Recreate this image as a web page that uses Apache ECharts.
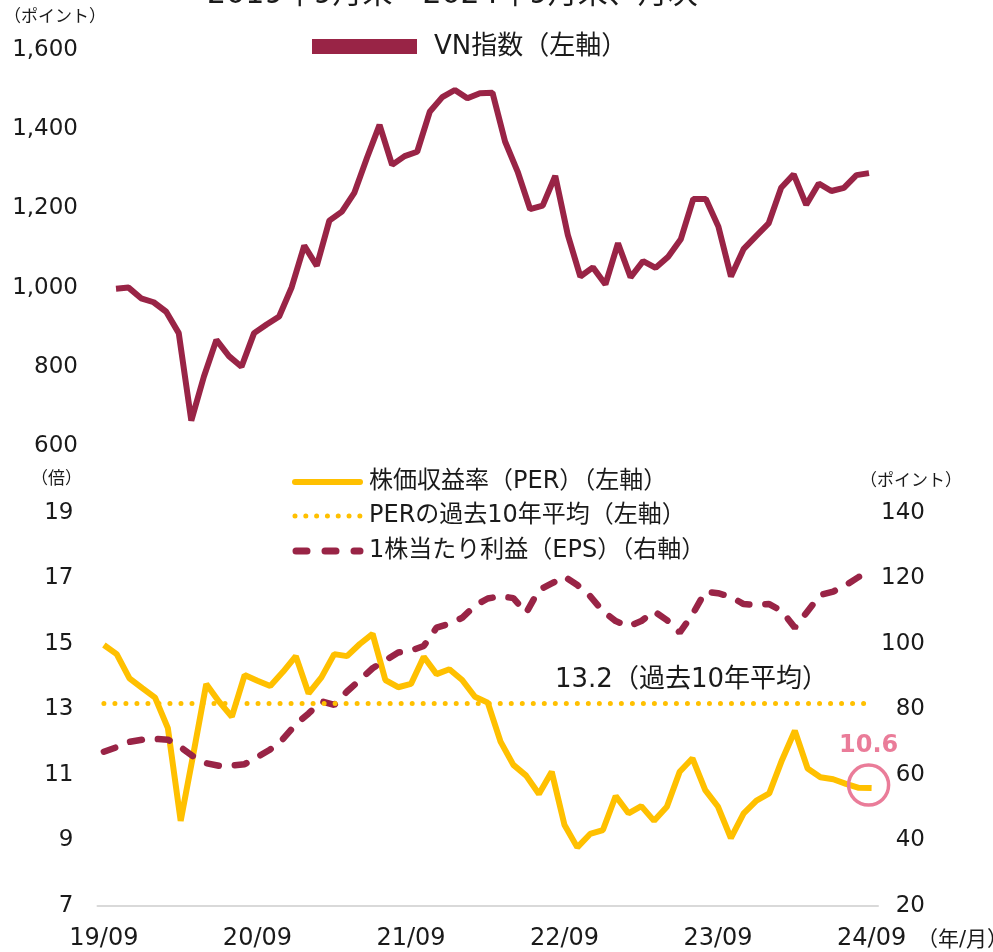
<!DOCTYPE html>
<html>
<head>
<meta charset="utf-8">
<title>VN指数・PER・EPS</title>
<script src="https://cdn.jsdelivr.net/npm/echarts@6/dist/echarts.min.js"></script>
<style>
  html, body { margin: 0; padding: 0; background: #fff; }
  #main { width: 993px; height: 952px; }
</style>
</head>
<body>
<div id="main"></div>
<script>
// 月次（19/09～24/09）
const months = [
  '19/09', '19/10', '19/11', '19/12',
  '20/01', '20/02', '20/03', '20/04', '20/05', '20/06', '20/07', '20/08', '20/09', '20/10', '20/11', '20/12',
  '21/01', '21/02', '21/03', '21/04', '21/05', '21/06', '21/07', '21/08', '21/09', '21/10', '21/11', '21/12',
  '22/01', '22/02', '22/03', '22/04', '22/05', '22/06', '22/07', '22/08', '22/09', '22/10', '22/11', '22/12',
  '23/01', '23/02', '23/03', '23/04', '23/05', '23/06', '23/07', '23/08', '23/09', '23/10', '23/11', '23/12',
  '24/01', '24/02', '24/03', '24/04', '24/05', '24/06', '24/07', '24/08', '24/09'
]

// VN指数（ポイント）
const vnIndex = [
  997, 1000, 973, 963, 939, 885, 664, 775, 868, 827, 800, 885, 907, 927, 1001, 1106,
  1055, 1169, 1192, 1240, 1328, 1411, 1310, 1332, 1343, 1444, 1481, 1499, 1478, 1491, 1492, 1369,
  1293, 1198, 1207, 1282, 1133, 1028, 1051, 1008, 1112, 1026, 1067, 1050, 1078, 1122, 1224, 1224,
  1154, 1028, 1097, 1130, 1162, 1252, 1286, 1209, 1263, 1244, 1252, 1284, 1289
]

// 株価収益率（倍）
const per = [
  14.97, 14.69, 13.95, 13.65, 13.36, 12.43, 9.60, 11.66, 13.78, 13.24, 12.78, 14.05, 13.88, 13.72, 14.15, 14.63,
  13.49, 13.98, 14.69, 14.63, 15.00, 15.31, 13.90, 13.68, 13.78, 14.61, 14.08, 14.23, 13.90, 13.39, 13.21, 12.02,
  11.31, 10.98, 10.42, 11.10, 9.47, 8.79, 9.20, 9.32, 10.36, 9.83, 10.05, 9.60, 10.03, 11.10, 11.51, 10.54,
  10.03, 9.07, 9.83, 10.22, 10.44, 11.46, 12.35, 11.20, 10.93, 10.87, 10.73, 10.61, 10.60
]

// PERの過去10年平均
const perAvg10y = 13.2

// 1株当たり利益（ポイント）
const eps = [
  67.1, 68.5, 70.1, 70.8, 71.0, 70.8, 68.5, 65.6, 63.6, 62.8, 62.9, 63.3, 65.5, 67.8, 71.0, 75.5,
  78.8, 82.5, 81.4, 85.5, 89.0, 92.6, 95.0, 97.4, 98.0, 99.4, 105.0, 106.2, 108.0, 111.7, 113.9, 114.6,
  114.0, 109.5, 116.5, 118.5, 120.6, 118.0, 114.6, 110.0, 107.0, 105.4, 107.0, 110.0, 107.3, 103.5, 109.0, 116.0,
  115.5, 114.4, 112.2, 111.9, 112.2, 110.0, 105.0, 110.0, 115.0, 116.0, 118.0, 120.5, 122.0
]

// 左軸（倍）の目盛
const perTicks = [7, 9, 11, 13, 15, 17, 19]

const FONT = "'DejaVu Sans', 'Noto Sans CJK JP', sans-serif"
const TEXT = '#1a1a1a'
const RED = '#992446'
const YELLOW = '#FFC000'
const PINK = '#EA7C99'

const chart = echarts.init(document.getElementById('main'))

chart.setOption({
  backgroundColor: '#fff',
  animation: false,
  textStyle: { fontFamily: FONT, color: TEXT },
  grid: [
    { left: 116, right: 124, top: 50, height: 396 },
    { left: 97.5, right: 115, top: 513, height: 393 }
  ],
  xAxis: [
    {
      gridIndex: 0,
      type: 'category',
      boundaryGap: false,
      data: months,
      axisLine: { show: false },
      axisTick: { show: false },
      axisLabel: { show: false },
      splitLine: { show: false }
    },
    {
      gridIndex: 1,
      type: 'category',
      boundaryGap: true,
      data: months,
      axisLine: { lineStyle: { color: '#d9d9d9', width: 2 } },
      axisTick: { show: false },
      axisLabel: {
        interval: 11,
        margin: 21,
        fontSize: 24,
        color: TEXT,
        fontFamily: FONT
      },
      splitLine: { show: false }
    }
  ],
  yAxis: [
    {
      gridIndex: 0,
      type: 'value',
      min: 600,
      max: 1600,
      interval: 200,
      axisLine: { show: false },
      axisTick: { show: false },
      splitLine: { show: false },
      axisLabel: {
        margin: 38,
        fontSize: 23,
        color: TEXT,
        fontFamily: FONT,
        formatter(v) {
          return v.toLocaleString('en-US')
        }
      }
    },
    {
      gridIndex: 1,
      type: 'value',
      min: 7,
      max: 19,
      axisLine: { show: false },
      axisTick: { show: false },
      splitLine: { show: false },
      axisLabel: {
        customValues: perTicks,
        margin: 24,
        fontSize: 23,
        color: TEXT,
        fontFamily: FONT
      }
    },
    {
      gridIndex: 1,
      type: 'value',
      position: 'right',
      min: 20,
      max: 140,
      interval: 20,
      axisLine: { show: false },
      axisTick: { show: false },
      splitLine: { show: false },
      axisLabel: {
        align: 'right',
        margin: 47,
        fontSize: 23,
        color: TEXT,
        fontFamily: FONT
      }
    }
  ],
  series: [
    {
      name: 'VN指数（左軸）',
      type: 'line',
      xAxisIndex: 0,
      yAxisIndex: 0,
      data: vnIndex,
      symbol: 'none',
      lineStyle: { color: RED, width: 6 },
      itemStyle: { color: RED }
    },
    {
      name: '株価収益率（PER）（左軸）',
      type: 'line',
      xAxisIndex: 1,
      yAxisIndex: 1,
      data: per,
      symbol: 'none',
      z: 3,
      lineStyle: { color: YELLOW, width: 6 },
      itemStyle: { color: YELLOW },
      markLine: {
        silent: true,
        symbol: ['none', 'none'],
        label: { show: false },
        lineStyle: { color: YELLOW, width: 5, type: [0.01, 11], cap: 'round' },
        data: [[
          { coord: [months[0], perAvg10y] },
          { coord: [months[months.length - 1], perAvg10y] }
        ]]
      },
      markPoint: {
        silent: true,
        data: [{
          coord: [months[months.length - 1], per[per.length - 1]],
          symbol: 'circle',
          symbolSize: 40,
          symbolOffset: [-3, -3],
          itemStyle: { color: 'rgba(0,0,0,0)', borderColor: PINK, borderWidth: 3.5 },
          label: {
            show: true,
            position: 'top',
            distance: 6,
            fontSize: 24,
            fontWeight: 'bold',
            color: PINK,
            fontFamily: FONT,
            formatter() {
              return per[per.length - 1].toFixed(1)
            }
          }
        }]
      }
    },
    {
      name: '1株当たり利益（EPS）（右軸）',
      type: 'line',
      xAxisIndex: 1,
      yAxisIndex: 2,
      data: eps,
      symbol: 'none',
      z: 4,
      lineStyle: { color: RED, width: 6.5, type: [12, 16], cap: 'round' },
      itemStyle: { color: RED }
    }
  ],
  graphic: [
    // タイトル（上端で切れている）
    {
      type: 'text', left: 207, top: -20,
      style: { text: '2019年9月末～2024年9月末、月次', font: '30px ' + FONT, fill: TEXT }
    },
    // 凡例：VN指数
    { type: 'rect', shape: { x: 312, y: 39, width: 105, height: 15 }, style: { fill: RED } },
    {
      type: 'text', x: 434, y: 47,
      style: { text: 'VN指数（左軸）', font: '26px ' + FONT, fill: TEXT, verticalAlign: 'middle' }
    },
    // 凡例：PER / 平均 / EPS
    {
      type: 'line', shape: { x1: 295, y1: 482, x2: 360, y2: 482 },
      style: { stroke: YELLOW, lineWidth: 6, lineCap: 'round' }
    },
    {
      type: 'line', shape: { x1: 295, y1: 516, x2: 360, y2: 516 },
      style: { stroke: YELLOW, lineWidth: 5, lineCap: 'round', lineDash: [0.01, 10.8] }
    },
    {
      type: 'line', shape: { x1: 296, y1: 551, x2: 360, y2: 551 },
      style: { stroke: RED, lineWidth: 7, lineCap: 'round', lineDash: [11, 18] }
    },
    {
      type: 'text', x: 369, y: 482,
      style: { text: '株価収益率（PER）（左軸）', font: '24px ' + FONT, fill: TEXT, verticalAlign: 'middle' }
    },
    {
      type: 'text', x: 369, y: 516,
      style: { text: 'PERの過去10年平均（左軸）', font: '24px ' + FONT, fill: TEXT, verticalAlign: 'middle' }
    },
    {
      type: 'text', x: 369, y: 551,
      style: { text: '1株当たり利益（EPS）（右軸）', font: '24px ' + FONT, fill: TEXT, verticalAlign: 'middle' }
    },
    // 平均値の注記
    {
      type: 'text', x: 555, y: 680,
      style: { text: perAvg10y.toFixed(1) + '（過去10年平均）', font: '26px ' + FONT, fill: TEXT, verticalAlign: 'middle' }
    },
    // 単位
    {
      type: 'text', x: 4, y: 18,
      style: { text: '（ポイント）', font: '17px ' + FONT, fill: TEXT, verticalAlign: 'middle' }
    },
    {
      type: 'text', x: 31, y: 480,
      style: { text: '（倍）', font: '17px ' + FONT, fill: TEXT, verticalAlign: 'middle' }
    },
    {
      type: 'text', x: 860, y: 482,
      style: { text: '（ポイント）', font: '17px ' + FONT, fill: TEXT, verticalAlign: 'middle' }
    },
    {
      type: 'text', x: 917, y: 941,
      style: { text: '（年/月）', font: '21px ' + FONT, fill: TEXT, verticalAlign: 'middle' }
    }
  ]
})
</script>
</body>
</html>
